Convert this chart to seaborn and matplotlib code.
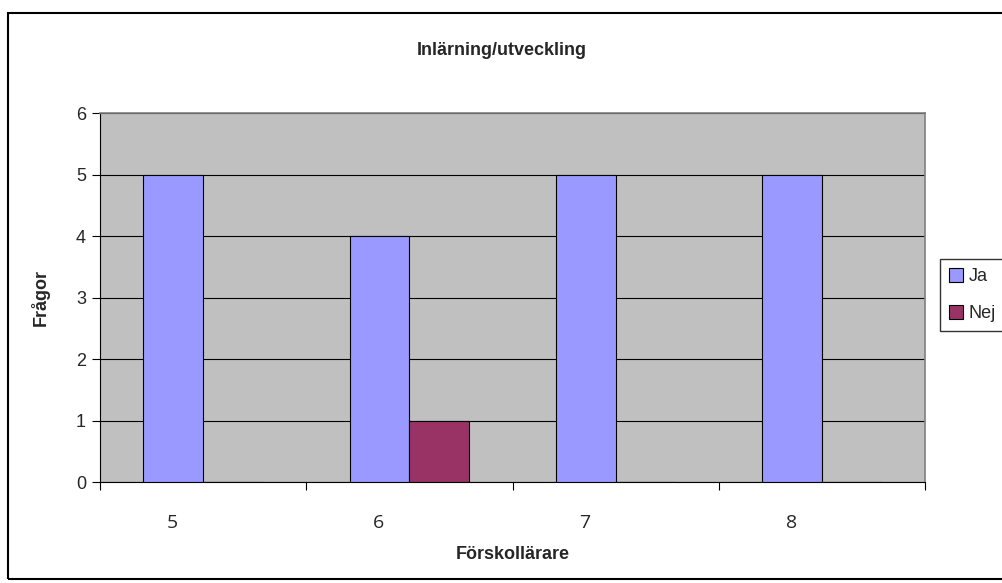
import pandas as pd
import matplotlib
matplotlib.use('Agg')
import matplotlib.pyplot as plt
import seaborn as sns
from matplotlib.patches import Rectangle

# data
kategorier = ['5', '6', '7', '8']
ja = [5, 4, 5, 5]
nej = [0, 1, 0, 0]

df = pd.DataFrame({
    'Förskollärare': kategorier * 2,
    'Antal': ja + nej,
    'Svar': ['Ja'] * 4 + ['Nej'] * 4,
})

sns.set_style('white')
plt.rcParams['font.family'] = ['Liberation Sans', 'DejaVu Sans']

fig = plt.figure(figsize=(10.03, 5.83), dpi=100)
ax = fig.add_axes([0.0997, 0.173, 0.8228, 0.633])

sns.barplot(data=df, x='Förskollärare', y='Antal', hue='Svar', order=kategorier,
            palette={'Ja': '#9999FF', 'Nej': '#993366'}, width=0.58, saturation=1,
            edgecolor='black', linewidth=0.8, ax=ax, zorder=3)

ax.set_facecolor('#C0C0C0')
ax.set_ylim(0, 6)
ax.set_xlim(-0.5, 3.5)
ax.set_yticks(range(0, 7))
ax.yaxis.grid(True, color='black', linewidth=0.8, zorder=0)
ax.set_axisbelow(True)

# x-axis: tick marks between categories, labels under the Ja bars
ax.set_xticks([-0.5, 0.5, 1.5, 2.5, 3.5])
ax.set_xticklabels([])
ax.set_xticks([i - 0.15 for i in range(4)], minor=True)
ax.set_xticklabels(kategorier, minor=True)
for t in ax.get_xticklabels(minor=True):
    t.set_fontfamily(['Open Sans', 'DejaVu Sans'])
    t.set_fontsize(14)
ax.tick_params(axis='x', which='minor', length=0, pad=23)
ax.tick_params(axis='x', which='major', direction='out', length=6, color='black', width=0.8)
ax.tick_params(axis='y', direction='out', length=6, color='black', width=0.8, labelsize=13, pad=4)
ax.yaxis.set_ticks_position('left')
ax.xaxis.set_ticks_position('bottom')

for s in ['top', 'right']:
    ax.spines[s].set_color('#808080')
    ax.spines[s].set_linewidth(1.2)
for s in ['left', 'bottom']:
    ax.spines[s].set_color('black')
    ax.spines[s].set_linewidth(0.8)

ax.set_xlabel('Förskollärare', fontsize=13, fontweight='bold', labelpad=10)
ax.set_ylabel('Frågor', fontsize=13, fontweight='bold', labelpad=19)
fig.text(0.5, 0.913, 'Inlärning/utveckling', ha='center', va='center',
         fontsize=13, fontweight='bold')

ax.get_legend().remove()
handles, labels = ax.get_legend_handles_labels()
leg = fig.legend(handles, labels, loc='upper left', bbox_to_anchor=(0.937, 0.556),
                 frameon=True, fancybox=False, edgecolor='black', fontsize=13,
                 handlelength=0.8, handleheight=0.8, handletextpad=0.3,
                 borderpad=0.5, labelspacing=1.1, borderaxespad=0)
leg.get_frame().set_linewidth(1.0)

# chart border
fig.patches.append(Rectangle((0.008, 0.007), 1.2, 0.971, transform=fig.transFigure,
                             fill=False, edgecolor='black', linewidth=1.5))

fig.savefig('out.png', dpi=100)
